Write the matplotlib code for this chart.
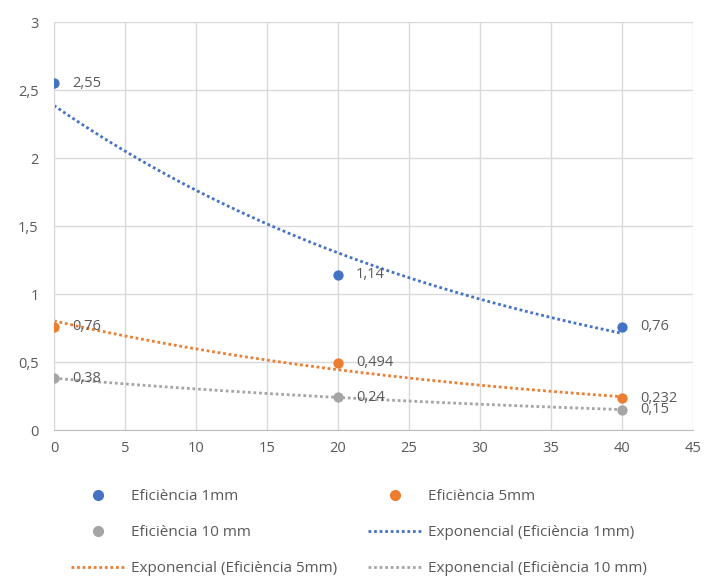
import numpy as np
import matplotlib
matplotlib.use("Agg")
import matplotlib.pyplot as plt
from matplotlib.lines import Line2D

plt.rcParams['font.family'] = ['Open Sans', 'DejaVu Sans']

# espessura (mm) no eixo x, eficiência no eixo y
x = [0, 20, 40]
ef_1mm = [2.55, 1.14, 0.76]
ef_5mm = [0.76, 0.494, 0.232]
ef_10mm = [0.38, 0.24, 0.15]

nomes = ["Eficiència 1mm", "Eficiència 5mm", "Eficiència 10 mm"]
cores = ["#4472C4", "#ED7D31", "#A5A5A5"]
series = [ef_1mm, ef_5mm, ef_10mm]

texto = "#595959"

fig = plt.figure(figsize=(7.04, 5.77), dpi=100)
ax = fig.add_axes([54/704, 1 - 430/577, (693 - 54)/704, (430 - 22)/577])

xs = np.linspace(0, 40, 200)
pontos = []
tendencias = []
for nome, cor, y in zip(nomes, cores, series):
    # linha de tendência exponencial (ajuste em log)
    b, a = np.polyfit(x, np.log(y), 1)
    l, = ax.plot(xs, np.exp(a) * np.exp(b * xs), color=cor, lw=2,
                 linestyle=(0, (1, 1)), dash_capstyle='butt', zorder=2)
    tendencias.append((l, "Exponencial (" + nome + ")"))
    p = ax.scatter(x, y, s=55, color=cor, zorder=3, linewidths=0)
    pontos.append((p, nome))
    for xi, yi in zip(x, y):
        ax.annotate(str(yi).replace('.', ','), (xi, yi), xytext=(13, 0),
                    textcoords='offset points', va='center', ha='left',
                    fontsize=10.5, color=texto, zorder=4)

ax.set_xlim(0, 45)
ax.set_ylim(0, 3)
ax.set_xticks(range(0, 50, 5))
ax.set_yticks(np.arange(0, 3.5, 0.5))
ax.set_yticklabels([('%g' % v).replace('.', ',') for v in np.arange(0, 3.5, 0.5)])
ax.grid(True, color="#D9D9D9", lw=1)
ax.set_axisbelow(True)
for s in ['top', 'right']:
    ax.spines[s].set_visible(False)
ax.spines['left'].set_color("#D9D9D9")
ax.spines['bottom'].set_color("#BFBFBF")
ax.tick_params(length=0, labelsize=10.5, labelcolor=texto)
ax.tick_params(axis='y', pad=11)
ax.tick_params(axis='x', pad=8)

# legenda em duas colunas, preenchida por linhas
handles = [pontos[0], pontos[1], pontos[2], tendencias[0], tendencias[1], tendencias[2]]
ordem = [0, 2, 4, 1, 3, 5]
hs = []
for i in ordem:
    h, nome = handles[i]
    if i < 3:
        hs.append((Line2D([], [], marker='o', ls='none', color=h.get_facecolor()[0],
                          markersize=7), nome))
    else:
        hs.append((h, nome))
fig.legend([h for h, n in hs], [n for h, n in hs], ncol=2, frameon=False,
           loc='upper left', bbox_to_anchor=(59/704, 1 - 477/577),
           fontsize=11, labelcolor=texto, handlelength=3.5, handletextpad=0.4,
           columnspacing=2.05, labelspacing=1.38, borderpad=0.3)

fig.savefig("out.png", dpi=100)
